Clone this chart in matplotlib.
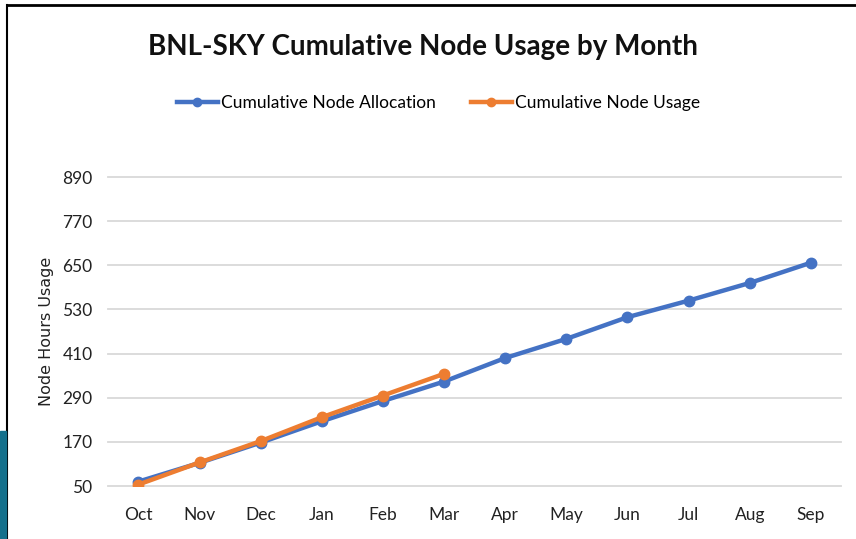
import matplotlib.pyplot as plt
from matplotlib.patches import Rectangle
from matplotlib.lines import Line2D

# --- dados ---
meses = ['Oct', 'Nov', 'Dec', 'Jan', 'Feb', 'Mar', 'Apr', 'May', 'Jun', 'Jul', 'Aug', 'Sep']
alocacao = [62, 113, 168, 226, 281, 334, 398, 450, 509, 554, 602, 657]
uso = [54, 114, 172, 237, 296, 355]
yticks = [50, 170, 290, 410, 530, 650, 770, 890]

AZUL = '#4472C4'
LARANJA = '#ED7D31'
FONTE = ['Lato', 'DejaVu Sans']

fig = plt.figure(figsize=(8.56, 5.39), dpi=100)
ax = fig.add_axes([0.126, 0.0983, 0.857, 0.5733])

x = list(range(len(meses)))
ax.plot(x, alocacao, color=AZUL, lw=3.2, marker='o', ms=7.5,
        solid_capstyle='round', label='Cumulative Node Allocation', zorder=3)
ax.plot(x[:len(uso)], uso, color=LARANJA, lw=3.2, marker='o', ms=7.5,
        solid_capstyle='round', label='Cumulative Node Usage', zorder=4)

ax.set_xlim(-0.5, len(meses) - 0.5)
ax.set_ylim(50, 890)
ax.set_xticks(x)
ax.set_xticklabels(meses, family=FONTE, fontsize=12.5, color='#222222')
ax.set_yticks(yticks)
ax.set_yticklabels([str(v) for v in yticks], family=FONTE, fontsize=12.5, color='#222222')
ax.tick_params(length=0, pad=11)
ax.tick_params(axis='x', pad=15)
ax.grid(axis='y', color='#d9d9d9', lw=1.3)
for g in ax.get_ygridlines():
    g.set_clip_on(False)
ax.set_axisbelow(True)
for s in ax.spines.values():
    s.set_visible(False)

ax.set_ylabel('Node Hours Usage', fontsize=11.5, color='#222222', labelpad=6)

fig.text(0.494, 0.913, 'BNL-SKY Cumulative Node Usage by Month', ha='center', va='center',
         family=FONTE, fontsize=20, fontweight='bold', color='#111111')

handles = [Line2D([], [], color=AZUL, lw=3.2, marker='o', ms=6),
           Line2D([], [], color=LARANJA, lw=3.2, marker='o', ms=6)]
fig.legend(handles, ['Cumulative Node Allocation', 'Cumulative Node Usage'],
           loc='center', bbox_to_anchor=(0.512, 0.809), ncol=2, frameon=False,
           prop={'family': FONTE, 'size': 12.5}, handlelength=2.4,
           columnspacing=2.0, handletextpad=0.15)

# moldura do slide
fig.add_artist(Line2D([0.008, 1.0], [0.99, 0.99], color='black', lw=2, transform=fig.transFigure))
fig.add_artist(Line2D([0.008, 0.008], [0.0, 0.99], color='black', lw=1.5, transform=fig.transFigure))
fig.add_artist(Rectangle((0, 0), 0.007, 0.2, transform=fig.transFigure,
                         color='#14708c', zorder=5))

fig.savefig('out.png', dpi=100)
